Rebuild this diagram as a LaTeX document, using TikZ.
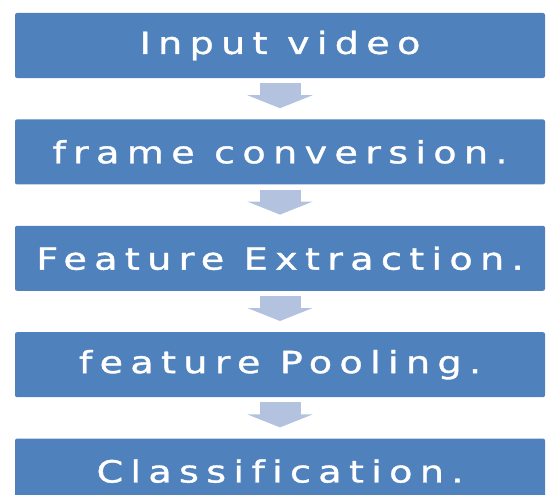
\documentclass[tikz,border=0pt]{standalone}
\usepackage{fontspec}
\setmainfont{DejaVu Sans}
\newfontfamily\boxfont[LetterSpace=24, FakeStretch=1.25, FakeBold=1.2, Ligatures=CommonOff]{DejaVu Sans}
\usetikzlibrary{positioning,arrows.meta}
\definecolor{boxblue}{HTML}{4F81BD}
\definecolor{arrowblue}{HTML}{B3C3DF}

\begin{document}
\begin{tikzpicture}[
		stage/.style = {rectangle, fill=boxblue, text=white, minimum width=530pt, minimum height=65pt, inner sep=0pt, rounded corners=2pt, font=\boxfont\fontsize{30.5}{36}\selectfont},
		flow/.style = {arrowblue, line width=41pt, -{Triangle[length=13pt, width=65pt]}},
		node distance = 41pt
	]
		\useasboundingbox (0,0) rectangle (546pt,-495pt);
		% the five stages
		\node [stage] (input) at (280pt,-45.5pt) {Input video};
		\node [stage, below=of input] (frame) {frame conversion.};
		\node [stage, below=of frame] (extract) {Feature Extraction.};
		\node [stage, below=of extract] (pool) {feature Pooling.};
		\node [stage, below=of pool] (classify) {Classification.};
		% arrows between them
		\draw [flow] ([yshift=-5pt]input.south) -- ([yshift=11pt]frame.north);
		\draw [flow] ([yshift=-5pt]frame.south) -- ([yshift=11pt]extract.north);
		\draw [flow] ([yshift=-5pt]extract.south) -- ([yshift=11pt]pool.north);
		\draw [flow] ([yshift=-5pt]pool.south) -- ([yshift=11pt]classify.north);
\end{tikzpicture}
\end{document}
